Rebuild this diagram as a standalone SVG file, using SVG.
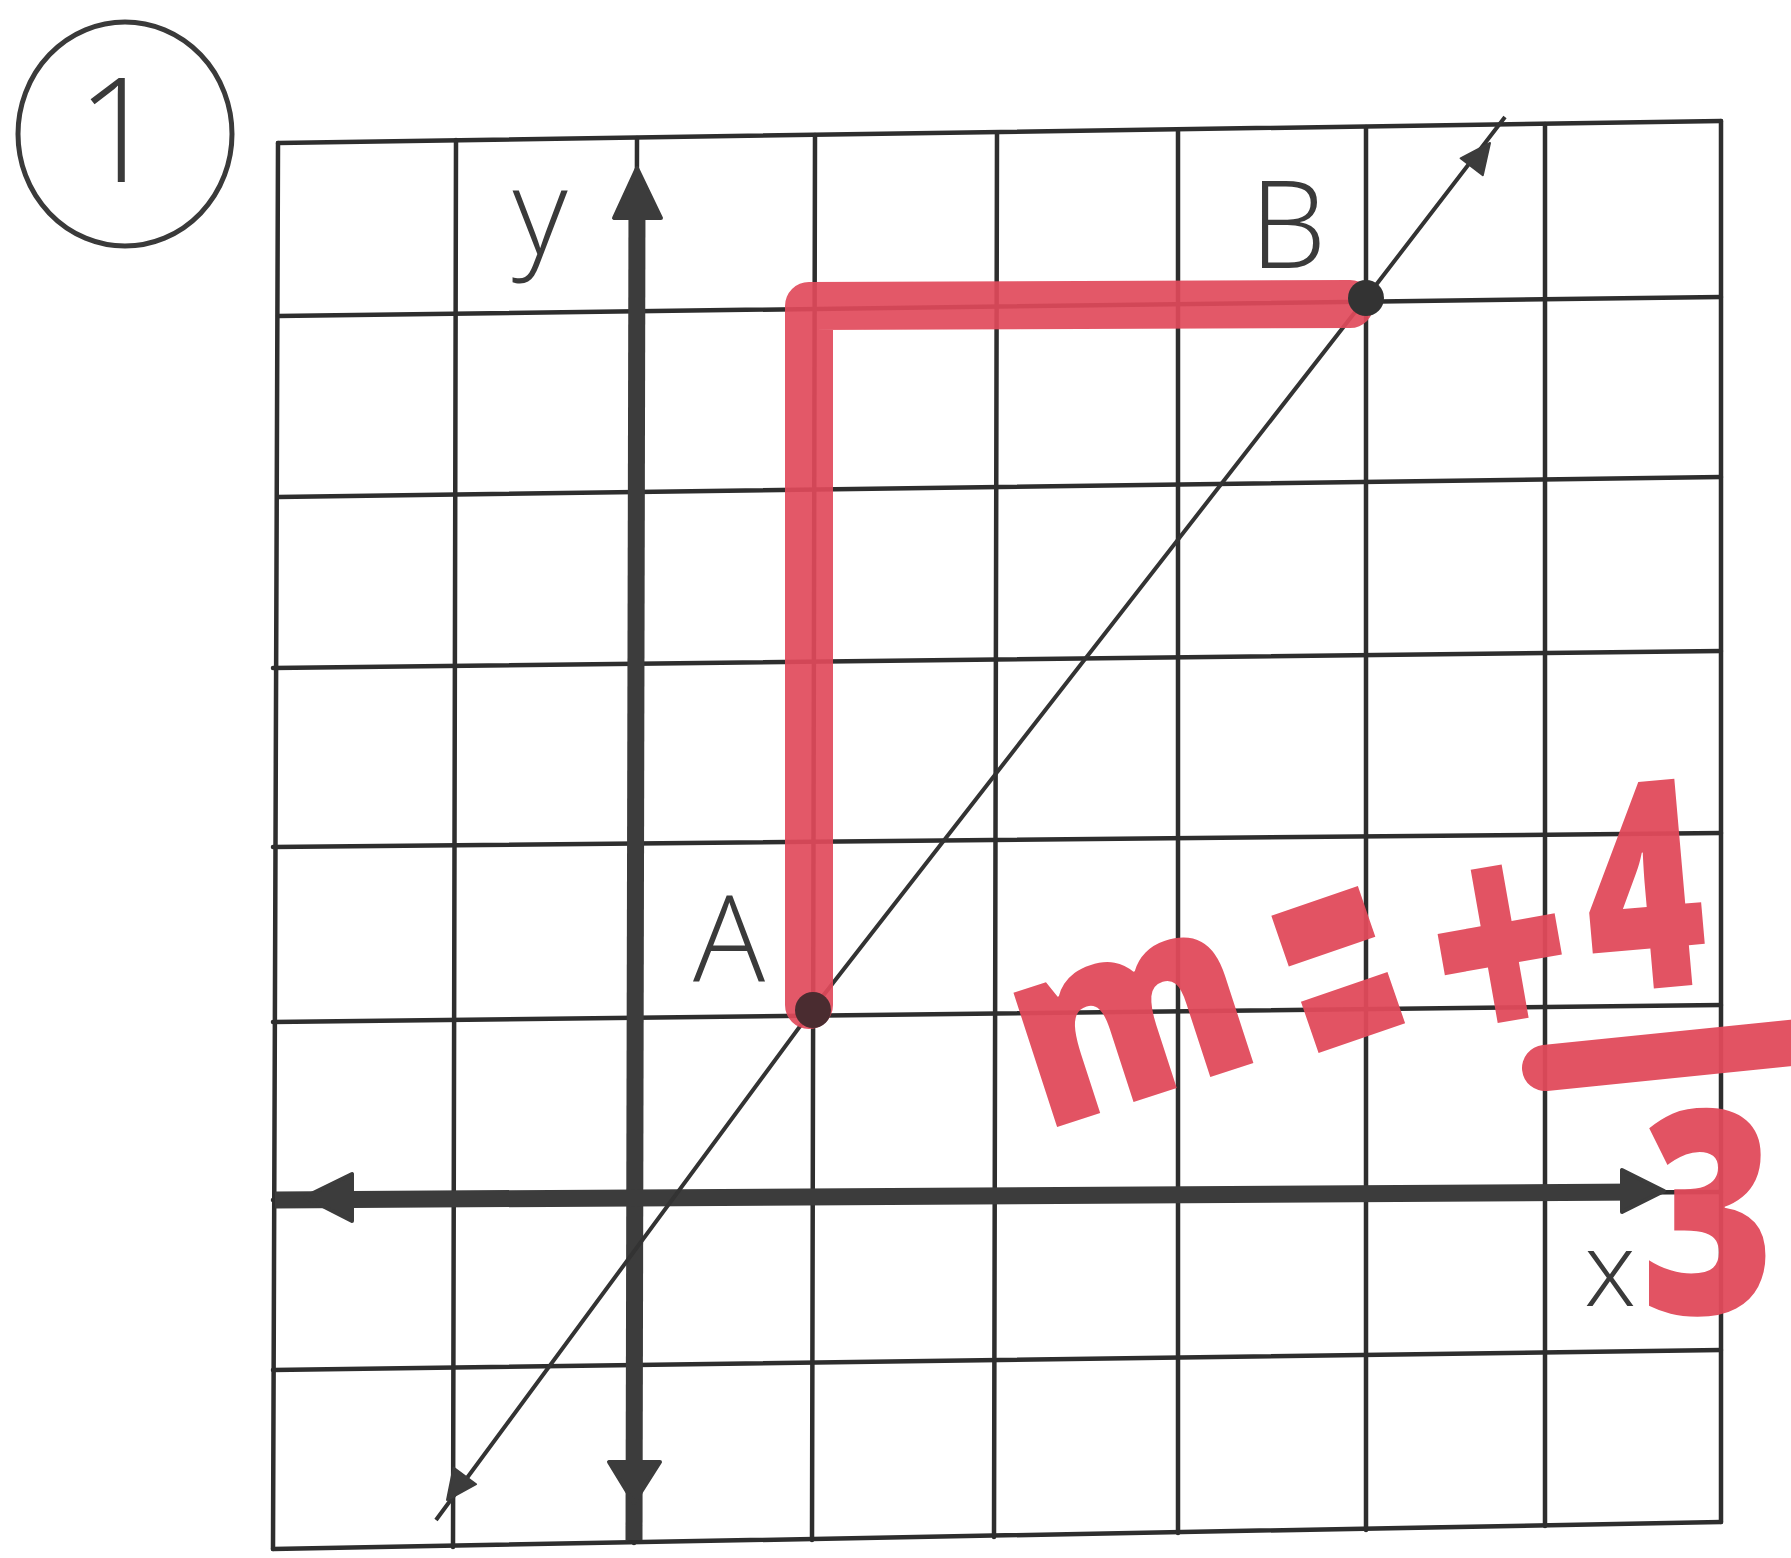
<svg xmlns="http://www.w3.org/2000/svg" width="1791" height="1558" viewBox="0 0 1791 1558">
<style>
.g{stroke:#2e2e2e;stroke-width:4.5;stroke-linecap:round;fill:none}
.ax{stroke:#3c3c3c;stroke-width:17;stroke-linecap:butt;fill:none}
.ah{fill:#3c3c3c;stroke:#3c3c3c;stroke-width:4;stroke-linejoin:round}
.diag{stroke:#333;stroke-width:4;fill:none;stroke-linejoin:round}
.lbl{font-family:'Open Sans','Liberation Sans',sans-serif;font-weight:300;fill:#3a3a3a}
.red{font-family:'Open Sans','Liberation Sans',sans-serif;font-weight:800;fill:#e14a5b}
.rl{stroke:#e14a5b;fill:none;stroke-linecap:round;stroke-linejoin:round}
</style>
<rect width="1791" height="1558" fill="#ffffff"/>
<g id="number">
<ellipse cx="125" cy="134" rx="107" ry="112" fill="none" stroke="#3a3a3a" stroke-width="5"/>
<text class="lbl" x="118" y="182" font-size="145" text-anchor="middle">1</text>
</g>
<g id="grid">
<line class="g" x1="278" y1="143" x2="1721" y2="121"/>
<line class="g" x1="278" y1="316" x2="1721" y2="297"/>
<line class="g" x1="278" y1="497" x2="1721" y2="477"/>
<line class="g" x1="273" y1="668" x2="1721" y2="651"/>
<line class="g" x1="273" y1="847" x2="1721" y2="833"/>
<line class="g" x1="273" y1="1022" x2="1721" y2="1005"/>
<line class="g" x1="273" y1="1200" x2="1721" y2="1192"/>
<line class="g" x1="273" y1="1370" x2="1721" y2="1350"/>
<line class="g" x1="273" y1="1549" x2="1721" y2="1522"/>
<line class="g" x1="278" y1="143" x2="273" y2="1549"/>
<line class="g" x1="456" y1="140" x2="453" y2="1547"/>
<line class="g" x1="637" y1="138" x2="634" y2="1543"/>
<line class="g" x1="815" y1="135" x2="812" y2="1540"/>
<line class="g" x1="997" y1="133" x2="994" y2="1537"/>
<line class="g" x1="1178" y1="130" x2="1178" y2="1533"/>
<line class="g" x1="1366" y1="127" x2="1366" y2="1530"/>
<line class="g" x1="1545" y1="124" x2="1545" y2="1526"/>
<line class="g" x1="1721" y1="121" x2="1721" y2="1522"/>
</g>
<g id="axes">
<line class="ax" x1="637" y1="200" x2="634" y2="1540"/>
<polygon class="ah" points="637,168 614,218 661,218"/>
<polygon class="ah" points="634,1503 609,1462 660,1462"/>
<line class="ax" x1="275" y1="1200" x2="1640" y2="1192"/>
<polygon class="ah" points="305,1197 352,1174 352,1221"/>
<polygon class="ah" points="1664,1191 1622,1170 1622,1212"/>
<text class="lbl" x="540" y="255" font-size="120" text-anchor="middle">y</text>
<text class="lbl" x="1610" y="1306" font-size="104" text-anchor="middle">x</text>
</g>
<g id="connectors">
<polyline class="diag" points="436,1520 812,1010 1366,298 1505,117"/>
<polygon class="ah" points="1490,143 1482.8,175.3 1460.6,158.3" style="stroke-width:2"/>
<polygon class="ah" points="447,1500 476.1,1484.2 453.5,1467.6" style="stroke-width:2"/>
</g>
<g id="rise-run">
<polyline class="rl" points="809,1005 809,306 1350,304" stroke-width="48" opacity="0.92"/>
</g>
<g id="pointA">
<circle cx="813" cy="1010" r="18" fill="#4a2c30"/>
<text class="lbl" x="729" y="981" font-size="120" text-anchor="middle">A</text>
</g>
<g id="pointB">
<circle cx="1366" cy="298" r="18" fill="#333"/>
<text class="lbl" x="1288" y="268" font-size="122" text-anchor="middle">B</text>
</g>
<g id="slope" opacity="0.95">
<text class="red" font-size="255" text-anchor="middle" transform="translate(1155,1095) rotate(-18) scale(0.93,1)">m</text>
<text class="red" font-size="410" text-anchor="middle" y="148" transform="translate(1337,966) rotate(-19) scale(0.45,1)">=</text>
<text class="red" font-size="320" text-anchor="middle" y="112" transform="translate(1500,945) rotate(-10) scale(0.75,1)">+</text>
<text class="red" font-size="290" text-anchor="middle" y="104" transform="translate(1643,885) rotate(-5) scale(0.7,1)">4</text>
<line class="rl" x1="1545" y1="1068" x2="1800" y2="1042" stroke-width="46"/>
<text class="red" font-size="285" text-anchor="middle" y="102" transform="translate(1708,1212) scale(0.8,1)">3</text>
</g>
</svg>
